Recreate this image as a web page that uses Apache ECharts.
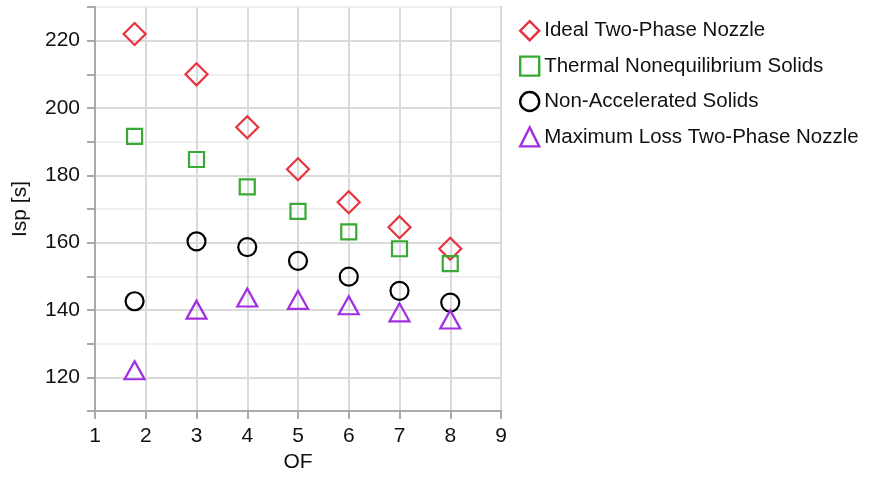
<!DOCTYPE html>
<html>
<head>
<meta charset="utf-8">
<script src="https://cdn.jsdelivr.net/npm/echarts@6/dist/echarts.min.js"></script>
<style>
  html, body { margin: 0; padding: 0; background: #fff; }
  #chart { width: 872px; height: 478px; }
</style>
</head>
<body>
<div id="chart"></div>
<script>
// Specific impulse vs. oxidizer-to-fuel ratio for four nozzle flow models
const ofValues = [1.78, 3, 4, 5, 6, 7, 8];
const idealTwoPhase = [222.0, 210.0, 194.3, 181.8, 172.0, 164.6, 158.2];
const thermalNoneq = [191.6, 184.7, 176.6, 169.3, 163.2, 158.2, 153.8];
const nonAccelerated = [142.6, 160.4, 158.7, 154.6, 149.9, 145.7, 142.2];
const maxLossTwoPhase = [122.1, 140.1, 143.7, 143.0, 141.4, 139.3, 137.2];

const seriesNames = [
  'Ideal Two-Phase Nozzle',
  'Thermal Nonequilibrium Solids',
  'Non-Accelerated Solids',
  'Maximum Loss Two-Phase Nozzle'
];
const seriesValues = [idealTwoPhase, thermalNoneq, nonAccelerated, maxLossTwoPhase];
const colors = ['#e8323f', '#38a935', '#000000', '#a22fe0'];
const symbols = ['diamond', 'rect', 'circle', 'triangle'];
const symbolSizes = [[22, 22], [15, 15], [18, 18], [20, 18]];

const font = 'Liberation Sans, Arial, Helvetica, sans-serif';
const axisGray = '#aaaaaa';

const chart = echarts.init(document.getElementById('chart'));

const series = seriesNames.map((name, i) => ({
  name,
  type: 'scatter',
  symbol: symbols[i],
  symbolSize: symbolSizes[i],
  itemStyle: { color: 'rgba(255,255,255,0)', borderColor: colors[i], borderWidth: 2.2, opacity: 1 },
  emphasis: { disabled: true },
  data: ofValues.map((x, j) => [x, seriesValues[i][j]])
}));

chart.setOption({
  animation: false,
  grid: {
    left: 95, right: 371, top: 7, bottom: 64,
    show: true, borderColor: axisGray, borderWidth: 2, backgroundColor: 'transparent'
  },
  legend: {
    orient: 'vertical',
    left: 514, top: 15,
    itemGap: 14,
    itemWidth: 19, itemHeight: 19,
    textStyle: { fontFamily: font, fontSize: 20.5, color: '#111' },
    data: seriesNames.map((name, i) => ({
      name,
      icon: symbols[i],
      itemStyle: { color: 'rgba(255,255,255,0)', borderColor: colors[i], borderWidth: 2.4 }
    }))
  },
  xAxis: {
    type: 'value',
    min: 1, max: 9, interval: 1,
    name: 'OF',
    nameLocation: 'middle',
    nameGap: 41,
    nameTextStyle: { fontFamily: font, fontSize: 21, color: '#111' },
    axisLine: { show: true, lineStyle: { color: axisGray, width: 2 } },
    axisTick: { show: true, length: 8, lineStyle: { color: axisGray, width: 2 } },
    axisLabel: { fontFamily: font, fontSize: 21, color: '#111', margin: 15 },
    splitLine: { show: true, lineStyle: { color: '#dadada', width: 2 } }
  },
  yAxis: {
    type: 'value',
    min: 110, max: 230, interval: 10,
    name: 'Isp [s]',
    nameLocation: 'middle',
    nameGap: 64,
    nameRotate: 90,
    nameTextStyle: { fontFamily: font, fontSize: 21, color: '#111' },
    axisLine: { show: true, lineStyle: { color: axisGray, width: 2 } },
    axisTick: { show: true, length: 8, lineStyle: { color: axisGray, width: 2 } },
    axisLabel: {
      fontFamily: font, fontSize: 21, color: '#111', margin: 15,
      formatter: v => (v % 20 === 0 ? String(v) : '')
    },
    splitLine: { show: true, lineStyle: { color: ['#efefef', '#dadada'], width: 2 } }
  },
  series
});
</script>
</body>
</html>
